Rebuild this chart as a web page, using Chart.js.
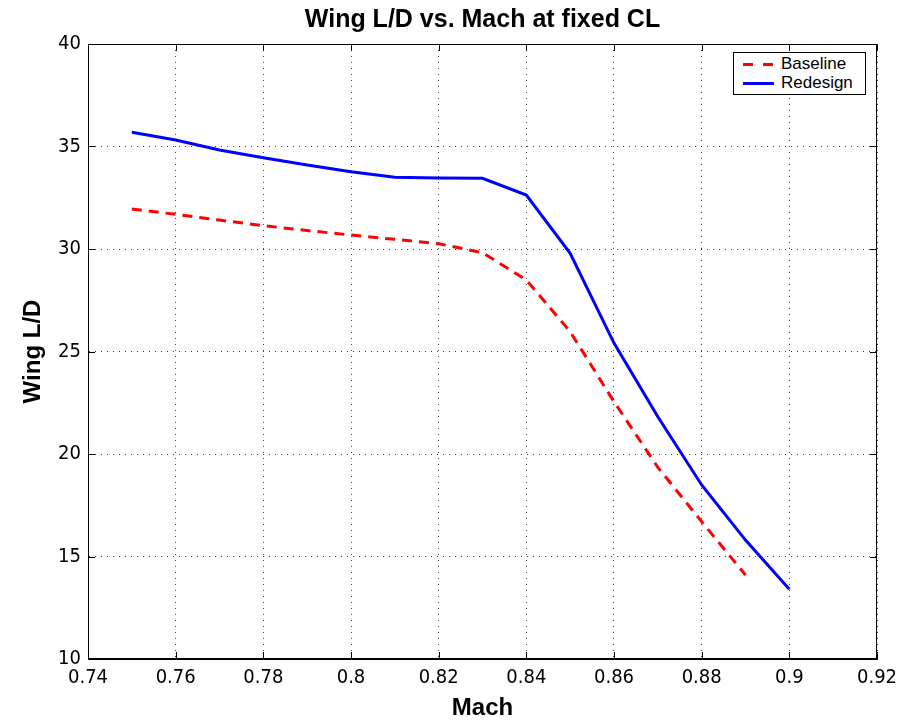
<!DOCTYPE html>
<html>
<head>
<meta charset="utf-8">
<script src="https://cdn.jsdelivr.net/npm/chart.js@4"></script>
<style>
  html, body { margin: 0; padding: 0; background: #fff; }
  #wrap { position: relative; width: 906px; height: 723px; }
  #legend {
    position: absolute; left: 733px; top: 52px; width: 131px; height: 41px;
    border: 1px solid #000; background: #fff;
    font-family: "Liberation Sans", Arial, sans-serif; font-size: 17px; color: #000;
  }
  .row { position: absolute; left: 0; height: 20px; line-height: 20px; }
  .row i { position: absolute; top: 9px; height: 3px; }
  .row span.t { position: absolute; left: 47px; top: 0; white-space: nowrap; }
</style>
</head>
<body>
<div id="wrap">
  <canvas id="ld" width="906" height="723"></canvas>
  <div id="legend">
    <div class="row" style="top:1px">
      <i style="left:9px;width:10px;background:#ff0000"></i>
      <i style="left:29px;width:10px;background:#ff0000"></i>
      <span class="t">Baseline</span>
    </div>
    <div class="row" style="top:20px">
      <i style="left:9px;width:31px;background:#0000ff"></i>
      <span class="t">Redesign</span>
    </div>
  </div>
</div>
<script>
const machBase = [0.75, 0.76, 0.77, 0.78, 0.79, 0.80, 0.81, 0.82, 0.83, 0.84, 0.85, 0.86, 0.87, 0.88, 0.89]
const ldBase = [31.95, 31.69, 31.41, 31.14, 30.9, 30.68, 30.47, 30.26, 29.82, 28.49, 25.97, 22.55, 19.35, 16.7, 14.1]
const machRedesign = [0.75, 0.76, 0.77, 0.78, 0.79, 0.80, 0.81, 0.82, 0.83, 0.84, 0.85, 0.86, 0.87, 0.88, 0.89, 0.90]
const ldRedesign = [35.7, 35.32, 34.83, 34.45, 34.1, 33.77, 33.5, 33.46, 33.45, 32.63, 29.79, 25.41, 21.82, 18.49, 15.8, 13.4]
const xTicks = [0.74, 0.76, 0.78, 0.8, 0.82, 0.84, 0.86, 0.88, 0.9, 0.92]
const yTicks = [10, 15, 20, 25, 30, 35, 40]
const chartTitle = 'Wing L/D vs. Mach at fixed CL'

const tickFont = { family: '"Liberation Sans Narrow", "DejaVu Sans Condensed", Arial, sans-serif', size: 20 }
const boldFont = { family: '"Liberation Sans", Arial, sans-serif', size: 24, weight: 'bold' }

// box around the plot, inward tick marks and a title centred over the plot area
const boxPlugin = {
  id: 'box',
  afterDraw(chart) {
    const ctx = chart.ctx
    const a = chart.chartArea
    const xs = chart.scales.x, ys = chart.scales.y
    ctx.save()
    ctx.strokeStyle = '#000'
    ctx.lineWidth = 1
    ctx.strokeRect(a.left + 0.5, a.top + 0.5, a.right - a.left - 1, a.bottom - a.top - 1)
    ctx.beginPath()
    xTicks.forEach(v => {
      const px = Math.round(xs.getPixelForValue(v)) + 0.5
      ctx.moveTo(px, a.bottom); ctx.lineTo(px, a.bottom - 7)
      ctx.moveTo(px, a.top); ctx.lineTo(px, a.top + 7)
    })
    yTicks.forEach(v => {
      const py = Math.round(ys.getPixelForValue(v)) + 0.5
      ctx.moveTo(a.left, py); ctx.lineTo(a.left + 7, py)
      ctx.moveTo(a.right, py); ctx.lineTo(a.right - 7, py)
    })
    ctx.stroke()

    ctx.fillStyle = '#000'
    ctx.font = 'bold 25px "Liberation Sans", Arial, sans-serif'
    ctx.textAlign = 'center'
    ctx.textBaseline = 'middle'
    ctx.fillText(chartTitle, (a.left + a.right) / 2, 20)
    ctx.restore()
  }
}

new Chart(document.getElementById('ld'), {
  type: 'line',
  data: {
    datasets: [{
      label: 'Baseline',
      data: machBase.map((m, i) => ({ x: m, y: ldBase[i] })),
      borderColor: '#ff0000',
      borderWidth: 3,
      borderDash: [10, 7],
      pointRadius: 0,
      fill: false,
      tension: 0
    }, {
      label: 'Redesign',
      data: machRedesign.map((m, i) => ({ x: m, y: ldRedesign[i] })),
      borderColor: '#0000ff',
      borderWidth: 3,
      pointRadius: 0,
      fill: false,
      tension: 0
    }]
  },
  options: {
    responsive: false,
    animation: false,
    layout: { padding: { left: 0, right: 29, top: 44, bottom: 0 } },
    plugins: {
      legend: { display: false },
      tooltip: { enabled: false },
      title: { display: false }
    },
    scales: {
      x: {
        type: 'linear',
        min: 0.74,
        max: 0.92,
        afterFit(scale) { scale.height = 64 },
        afterBuildTicks(scale) { scale.ticks = xTicks.map(v => ({ value: v })) },
        ticks: {
          color: '#000',
          font: tickFont,
          padding: 7,
          maxRotation: 0,
          autoSkip: false,
          callback: v => String(+(+v).toFixed(2))
        },
        grid: { color: 'rgba(0,0,0,0.75)', drawTicks: false, lineWidth: 1 },
        border: { display: true, color: '#000', dash: [1, 5] },
        title: { display: true, text: 'Mach', color: '#000', font: boldFont, padding: { top: 0, bottom: 0.6 } }
      },
      y: {
        min: 10,
        max: 40,
        afterFit(scale) { scale.width = 88 },
        afterBuildTicks(scale) { scale.ticks = yTicks.map(v => ({ value: v })) },
        ticks: { color: '#000', font: tickFont, padding: 7 },
        grid: { color: 'rgba(0,0,0,0.75)', drawTicks: false, lineWidth: 1 },
        border: { display: true, color: '#000', dash: [1, 5] },
        title: { display: true, text: 'Wing L/D', color: '#000', font: boldFont, padding: { top: 18.6, bottom: 0 } }
      }
    }
  },
  plugins: [boxPlugin]
})
</script>
</body>
</html>
